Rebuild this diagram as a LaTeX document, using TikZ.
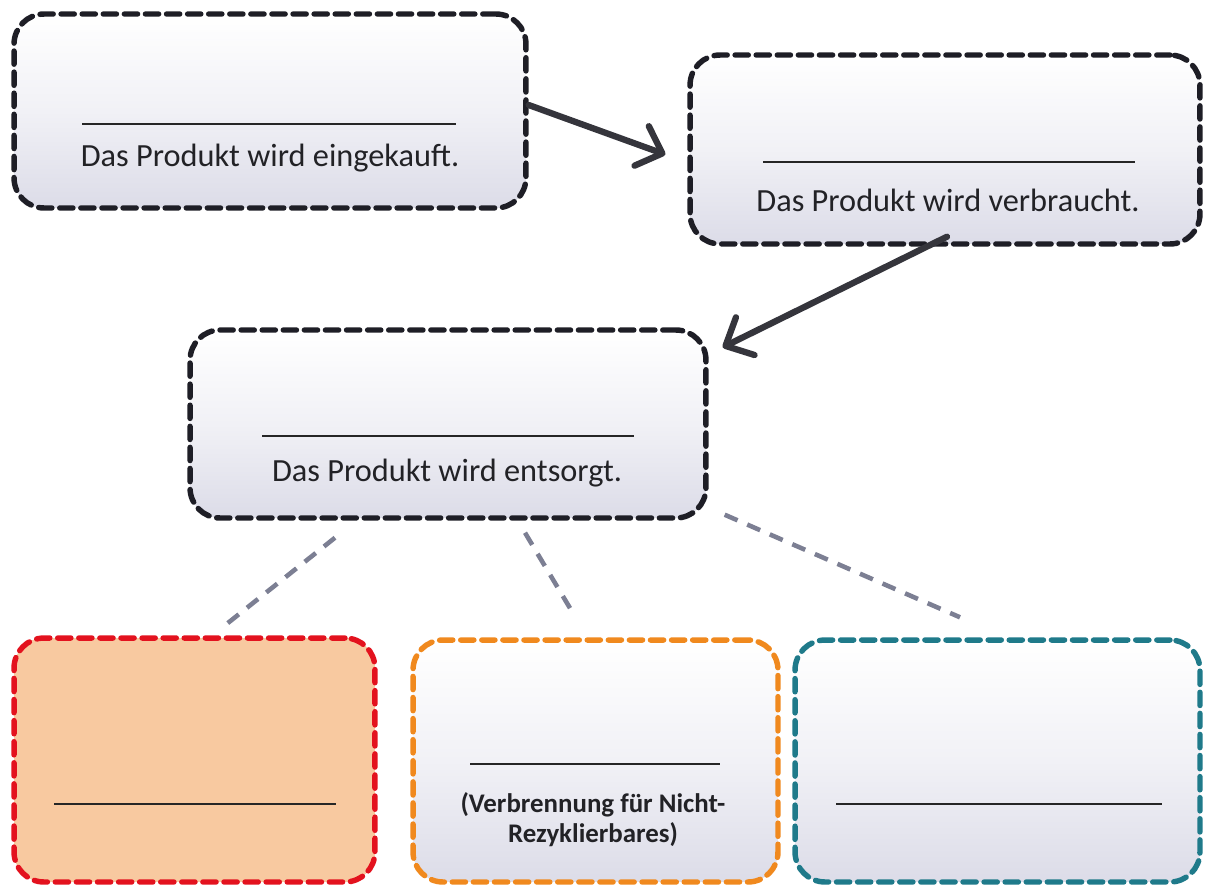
\documentclass[tikz,border=0pt]{standalone}
\usepackage{fontspec}
\setmainfont{Carlito}
\usetikzlibrary{arrows.meta,calc,shadings}
\definecolor{boxdark}{HTML}{1E1E26}
\definecolor{lav}{HTML}{DCDCE8}
\definecolor{peach}{HTML}{F8C9A0}
\definecolor{redb}{HTML}{E3121E}
\definecolor{orangeb}{HTML}{F0891E}
\definecolor{tealb}{HTML}{1F7A8A}
\definecolor{greyc}{HTML}{7C7F93}
\definecolor{txt}{HTML}{222226}
\tikzset{
  cardbox/.style={rectangle, rounded corners=0.6cm, inner sep=0pt,
    line width=3.1pt, dash pattern=on 7.5pt off 4.5pt, line cap=round,
    top color=white, bottom color=lav, middle color=white!60!lav},
  darkcard/.style={cardbox, draw=boxdark},
  blankline/.style={line width=1.1pt, draw=black!85},
  cardtext/.style={font=\fontsize{18.4}{22}\selectfont, text=txt, inner sep=0pt},
  smalltext/.style={font=\bfseries\fontsize{15.3}{17}\selectfont, text=txt, inner sep=0pt, align=center},
  flowarrow/.style={line width=3.6pt, draw=boxdark!90, line cap=round,
    -{Straight Barb[length=4.4mm,width=8.4mm,line cap=round,line join=round]}},
  branch/.style={line width=2.6pt, draw=greyc, dash pattern=on 8pt off 6pt}
}
\begin{document}
\begin{tikzpicture}[x=0.02cm,y=-0.02cm]
\useasboundingbox (0,0) rectangle (1206,886);
% boxes
\node[darkcard, minimum width=10.24cm, minimum height=3.88cm] (b1) at (270,111) {};
\node[darkcard, minimum width=10.2cm, minimum height=3.78cm] (b2) at (945,149.5) {};
\node[darkcard, minimum width=10.32cm, minimum height=3.76cm] (b3) at (448,424) {};
\node[cardbox, draw=redb, fill=peach, top color=peach, bottom color=peach, middle color=peach, minimum width=7.22cm, minimum height=4.88cm] (b4) at (194.5,760) {};
\node[cardbox, draw=orangeb, minimum width=7.3cm, minimum height=4.84cm] (b5) at (595.5,761) {};
\node[cardbox, draw=tealb, minimum width=8.1cm, minimum height=4.84cm] (b6) at (997.5,761) {};
% blank lines
\draw[blankline] (82,124) -- (456,124);
\draw[blankline] (763,162) -- (1135,162);
\draw[blankline] (262,436) -- (634,436);
\draw[blankline] (54,804) -- (336,804);
\draw[blankline] (470,764) -- (720,764);
\draw[blankline] (836,804) -- (1162,804);
% texts
\node[cardtext] (t1) at (270,158) {Das Produkt wird eingekauft.};
\node[cardtext] (t2) at (948,200) {Das Produkt wird verbraucht.};
\node[cardtext] (t3) at (447,473) {Das Produkt wird entsorgt.};
\node[smalltext] (t5) at (593,820) {(Verbrennung für Nicht-\\Rezyklierbares)};
% arrows
\draw[flowarrow] ($(b1.east)+(0,-6)$) -- ($(b2.west)+(-22,5)$);
\draw[flowarrow] ($(b2.south)+(2,-10)$) -- ($(b3.north east)+(14,20)$);
% branches
\draw[branch] ($(b3.south)+(-113,17)$) -- ($(b4.north)+(33,-12)$);
\draw[branch] ($(b3.south)+(77,12)$) -- ($(b5.north)+(-23,-25)$);
\draw[branch] ($(b3.south east)+(16,-6)$) -- ($(b6.north)+(-37.5,-20)$);
\end{tikzpicture}
\end{document}
